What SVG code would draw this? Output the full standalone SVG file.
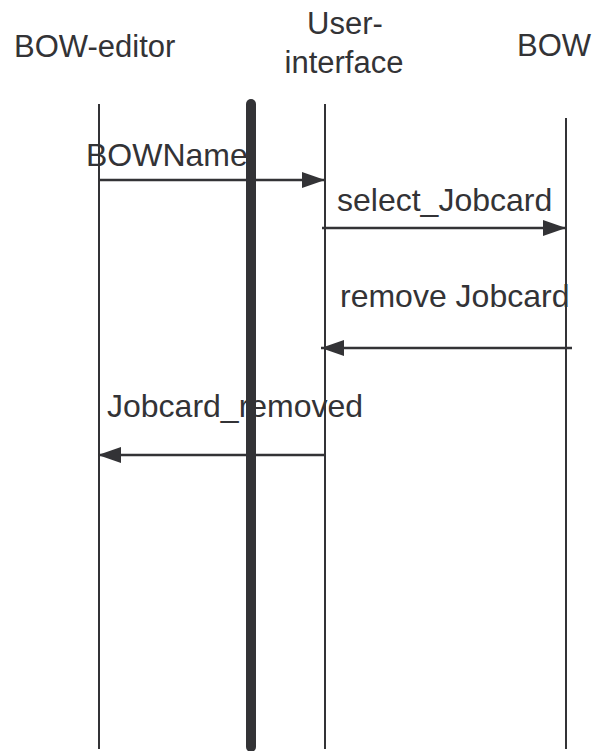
<svg xmlns="http://www.w3.org/2000/svg" width="592" height="751" viewBox="0 0 592 751">
<style>
text{font-family:"Liberation Sans",Arial,sans-serif;font-size:31px;fill:#333336}
.lbl{font-size:32px}
.life{stroke:#333336;stroke-width:2;fill:none}
.msg{stroke:#333336;stroke-width:2.5;fill:none}
</style>
<defs>
<marker id="ah" markerWidth="23" markerHeight="16" refX="23" refY="8" orient="auto" markerUnits="userSpaceOnUse">
<path d="M0,0 L23,8 L0,16 Z" fill="#333336"/>
</marker>
</defs>
<rect width="592" height="751" fill="#fff"/>
<g id="bow-editor">
<text x="14" y="57">BOW-editor</text>
<line class="life" x1="99" y1="104" x2="99" y2="749"/>
</g>
<g id="user-interface">
<text x="345" y="34" text-anchor="middle">User-</text>
<text x="344" y="73" text-anchor="middle">interface</text>
<line class="life" x1="325" y1="104" x2="325" y2="749"/>
</g>
<g id="bow">
<text x="517" y="56">BOW</text>
<line class="life" x1="566" y1="118" x2="566" y2="749"/>
</g>
<g id="connectors">
<line class="msg" x1="99" y1="180" x2="325" y2="180" marker-end="url(#ah)"/>
<line class="msg" x1="322" y1="228" x2="566" y2="228" marker-end="url(#ah)"/>
<line class="msg" x1="572" y1="348" x2="321" y2="348" marker-end="url(#ah)"/>
<line class="msg" x1="325" y1="455" x2="98" y2="455" marker-end="url(#ah)"/>
</g>
<g id="bar">
<line x1="251" y1="104" x2="251" y2="747" stroke="#333336" stroke-width="10" stroke-linecap="round"/>
</g>
<g id="labels">
<text class="lbl" x="86" y="166">BOWName</text>
<text class="lbl" x="337" y="211">select_Jobcard</text>
<text class="lbl" x="340" y="307">remove Jobcard</text>
<text class="lbl" x="107" y="417">Jobcard_removed</text>
</g>
</svg>
